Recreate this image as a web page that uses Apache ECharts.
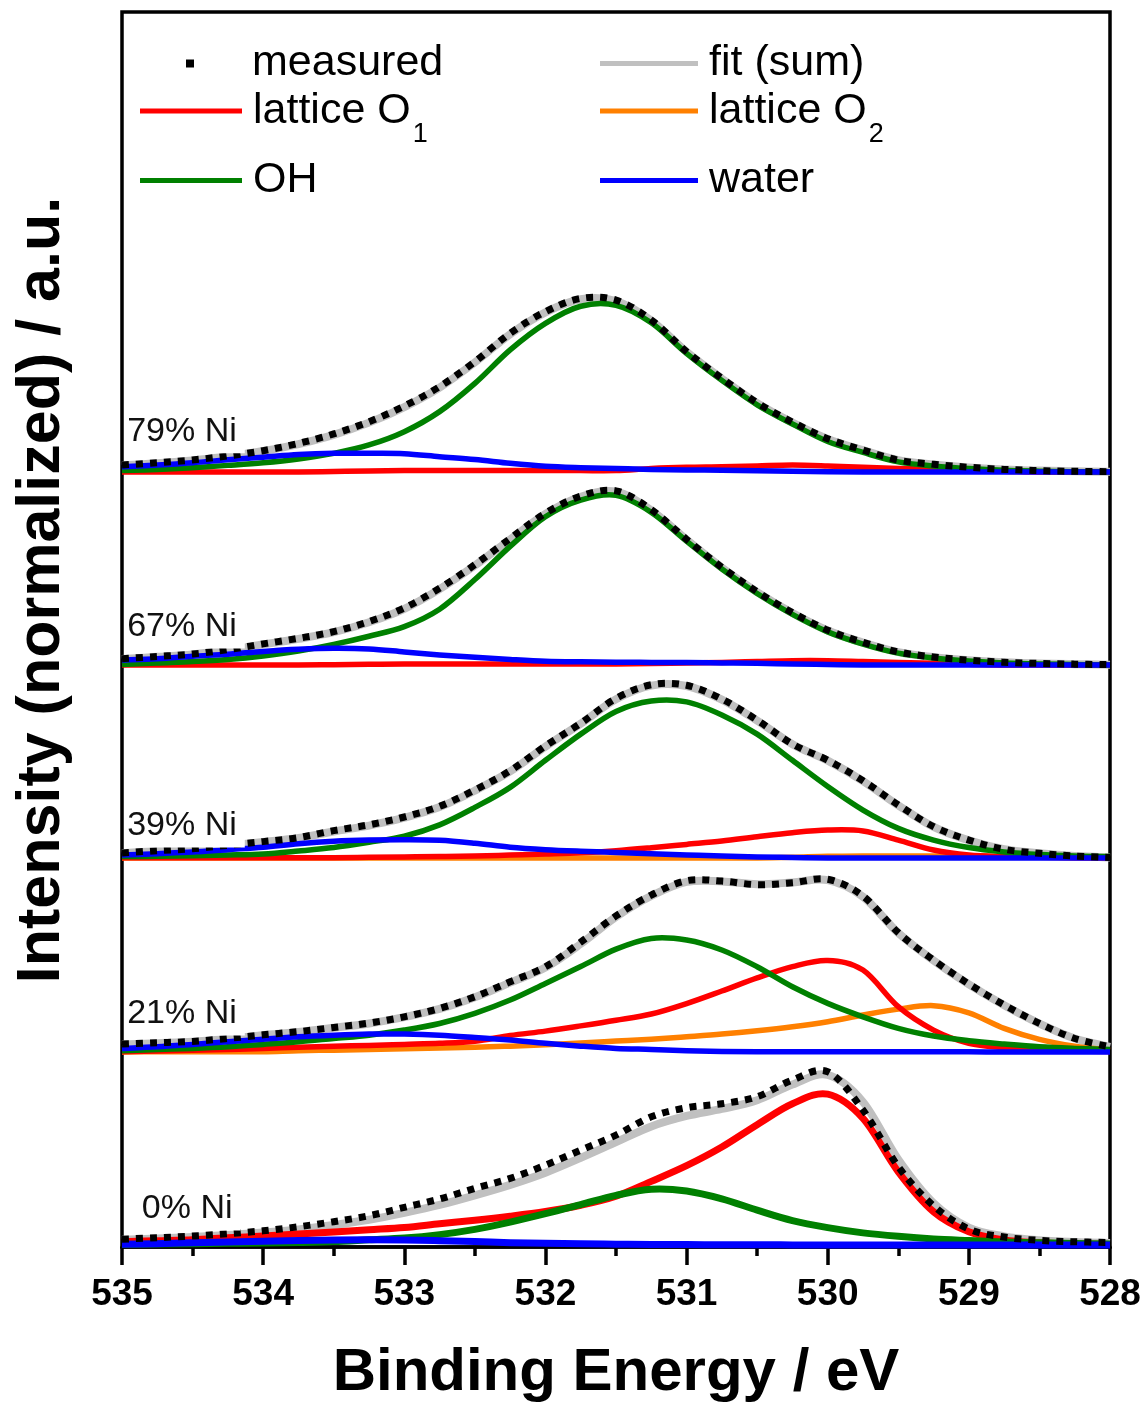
<!DOCTYPE html>
<html>
<head>
<meta charset="utf-8">
<title>O 1s spectra</title>
<script src="https://cdn.jsdelivr.net/npm/echarts@6/dist/echarts.min.js"></script>
<style>
html, body { margin: 0; padding: 0; background: #fff; }
#main { width: 1146px; height: 1409px; }
</style>
</head>
<body>
<div id="main"></div>
<script>
var FONT = '"Liberation Sans", Arial, sans-serif';

// binding energy grid (eV), read every 0.25 eV
var energy = [535, 534.75, 534.5, 534.25, 534, 533.75, 533.5, 533.25, 533, 532.75, 532.5, 532.25, 532, 531.75, 531.5,
              531.25, 531, 530.75, 530.5, 530.25, 530, 529.75, 529.5, 529.25, 529, 528.75, 528.5, 528.25, 528];

var sampleNames = ['0% Ni', '21% Ni', '39% Ni', '67% Ni', '79% Ni'];
var offsets = [0.011, 1.117, 2.229, 3.335, 4.441];     // vertical stacking offset of each spectrum
var labelE = [534.16, 534.13, 534.13, 534.13, 534.13];
var labelY = [0.207, 0.218, 0.184, 0.218, 0.230];

// 0% Ni
var meas0  = [0.034, 0.042, 0.052, 0.065, 0.082, 0.105, 0.134, 0.168, 0.216, 0.264, 0.325, 0.382, 0.458, 0.544, 0.630, 0.735, 0.787, 0.810, 0.850, 0.946, 0.993, 0.774, 0.449, 0.225, 0.092, 0.046, 0.027, 0.019, 0.015];
var fit0   = [0.030, 0.038, 0.047, 0.058, 0.072, 0.090, 0.115, 0.145, 0.185, 0.230, 0.285, 0.345, 0.415, 0.500, 0.590, 0.680, 0.740, 0.780, 0.830, 0.920, 0.975, 0.820, 0.490, 0.240, 0.100, 0.050, 0.028, 0.018, 0.012];
var lat1_0 = [0.019, 0.025, 0.031, 0.042, 0.052, 0.063, 0.075, 0.088, 0.101, 0.122, 0.142, 0.165, 0.192, 0.228, 0.280, 0.365, 0.455, 0.562, 0.690, 0.810, 0.865, 0.726, 0.420, 0.191, 0.076, 0.029, 0.013, 0.006, 0.004];
var oh0    = [0.004, 0.006, 0.008, 0.010, 0.012, 0.015, 0.020, 0.030, 0.040, 0.060, 0.090, 0.132, 0.180, 0.232, 0.285, 0.320, 0.310, 0.265, 0.200, 0.140, 0.100, 0.070, 0.050, 0.035, 0.026, 0.018, 0.013, 0.009, 0.006];
var water0 = [0.005, 0.008, 0.013, 0.018, 0.022, 0.026, 0.029, 0.030, 0.029, 0.025, 0.020, 0.014, 0.010, 0.007, 0.005, 0.003, 0.003, 0.002, 0.002, 0.001, 0, 0, 0, 0, 0, 0, 0, 0, 0];

// 21% Ni
var meas21  = [0.046, 0.053, 0.061, 0.078, 0.099, 0.117, 0.141, 0.166, 0.202, 0.250, 0.317, 0.403, 0.489, 0.630, 0.780, 0.900, 0.982, 0.980, 0.959, 0.970, 0.990, 0.894, 0.684, 0.527, 0.390, 0.270, 0.164, 0.078, 0.030];
var fit21   = [0.044, 0.051, 0.059, 0.076, 0.097, 0.115, 0.139, 0.164, 0.200, 0.247, 0.314, 0.398, 0.484, 0.620, 0.775, 0.895, 0.975, 0.978, 0.962, 0.972, 0.985, 0.890, 0.682, 0.525, 0.388, 0.268, 0.163, 0.078, 0.030];
var lat1_21 = [0.002, 0.006, 0.010, 0.015, 0.020, 0.028, 0.034, 0.038, 0.044, 0.050, 0.062, 0.095, 0.120, 0.150, 0.182, 0.218, 0.278, 0.350, 0.425, 0.490, 0.525, 0.470, 0.260, 0.126, 0.050, 0.025, 0.012, 0.006, 0.003];
var lat2_21 = [0.000, 0.002, 0.002, 0.002, 0.002, 0.008, 0.011, 0.015, 0.019, 0.023, 0.027, 0.034, 0.042, 0.052, 0.063, 0.074, 0.088, 0.103, 0.122, 0.145, 0.174, 0.212, 0.246, 0.266, 0.225, 0.136, 0.073, 0.034, 0.011];
var oh21    = [0.008, 0.015, 0.021, 0.030, 0.044, 0.059, 0.078, 0.097, 0.126, 0.164, 0.222, 0.298, 0.393, 0.490, 0.590, 0.651, 0.642, 0.585, 0.489, 0.374, 0.279, 0.202, 0.136, 0.092, 0.065, 0.046, 0.030, 0.021, 0.015];
var water21 = [0.021, 0.030, 0.044, 0.059, 0.073, 0.088, 0.097, 0.103, 0.103, 0.097, 0.084, 0.069, 0.050, 0.034, 0.021, 0.015, 0.008, 0.004, 0.002, 0.002, 0.002, 0.002, 0.002, 0.002, 0.002, 0, 0, 0, 0];

// 39% Ni
var meas39  = [0.029, 0.042, 0.053, 0.073, 0.094, 0.117, 0.157, 0.190, 0.235, 0.296, 0.390, 0.500, 0.642, 0.772, 0.915, 0.993, 0.990, 0.911, 0.790, 0.653, 0.560, 0.443, 0.304, 0.180, 0.103, 0.050, 0.027, 0.011, 0.003];
var fit39   = [0.028, 0.040, 0.051, 0.071, 0.092, 0.115, 0.152, 0.186, 0.231, 0.292, 0.386, 0.496, 0.638, 0.770, 0.910, 0.988, 0.986, 0.908, 0.788, 0.652, 0.558, 0.441, 0.302, 0.178, 0.101, 0.050, 0.027, 0.011, 0.003];
var lat1_39 = [0.002, 0.002, 0.002, 0.002, 0.002, 0.002, 0.002, 0.004, 0.006, 0.008, 0.011, 0.017, 0.023, 0.030, 0.042, 0.059, 0.078, 0.097, 0.122, 0.145, 0.160, 0.155, 0.103, 0.046, 0.017, 0.008, 0.004, 0.002, 0.002];
var lat2_39 = [0, 0, 0, 0, 0, 0, 0, 0, 0, 0, 0, 0, 0, 0, 0, 0, 0, 0, 0, 0.004, 0.010, 0.012, 0.012, 0.012, 0.011, 0.008, 0.005, 0.003, 0];
var oh39    = [0.008, 0.010, 0.013, 0.017, 0.023, 0.040, 0.060, 0.090, 0.125, 0.190, 0.290, 0.405, 0.560, 0.710, 0.840, 0.900, 0.895, 0.820, 0.710, 0.560, 0.410, 0.275, 0.170, 0.103, 0.060, 0.035, 0.020, 0.012, 0.008];
var water39 = [0.017, 0.025, 0.034, 0.048, 0.062, 0.082, 0.096, 0.103, 0.105, 0.102, 0.085, 0.062, 0.048, 0.039, 0.032, 0.025, 0.018, 0.011, 0.006, 0.003, 0, 0, 0, 0, 0, 0, 0, 0, 0];

// 67% Ni
var meas67  = [0.036, 0.049, 0.063, 0.088, 0.121, 0.153, 0.191, 0.249, 0.327, 0.440, 0.575, 0.725, 0.870, 0.968, 0.998, 0.890, 0.720, 0.560, 0.420, 0.300, 0.200, 0.130, 0.075, 0.046, 0.028, 0.016, 0.009, 0.005, 0.002];
var fit67   = [0.034, 0.047, 0.061, 0.086, 0.118, 0.150, 0.188, 0.245, 0.322, 0.435, 0.570, 0.720, 0.866, 0.964, 0.993, 0.887, 0.718, 0.558, 0.418, 0.298, 0.198, 0.129, 0.074, 0.045, 0.027, 0.016, 0.009, 0.005, 0.002];
var lat1_67 = [0, 0, 0, 0, 0, 0, 0.002, 0.004, 0.006, 0.006, 0.006, 0.006, 0.006, 0.006, 0.006, 0.008, 0.012, 0.015, 0.020, 0.025, 0.025, 0.020, 0.015, 0.010, 0.005, 0, 0, 0, 0];
var oh67    = [0.003, 0.012, 0.020, 0.032, 0.052, 0.080, 0.118, 0.165, 0.220, 0.320, 0.490, 0.680, 0.850, 0.945, 0.972, 0.875, 0.710, 0.550, 0.410, 0.290, 0.190, 0.120, 0.068, 0.040, 0.023, 0.012, 0.006, 0.003, 0];
var water67 = [0.029, 0.036, 0.050, 0.062, 0.078, 0.090, 0.096, 0.092, 0.075, 0.058, 0.044, 0.032, 0.022, 0.018, 0.016, 0.015, 0.014, 0.012, 0.010, 0.006, 0.003, 0, 0, 0, 0, 0, 0, 0, 0];

// 79% Ni
var meas79  = [0.040, 0.053, 0.069, 0.092, 0.122, 0.164, 0.218, 0.288, 0.378, 0.489, 0.632, 0.795, 0.919, 0.995, 0.985, 0.871, 0.690, 0.537, 0.397, 0.286, 0.191, 0.126, 0.068, 0.044, 0.027, 0.015, 0.008, 0.004, 0.002];
var fit79   = [0.038, 0.050, 0.066, 0.090, 0.120, 0.160, 0.213, 0.283, 0.372, 0.484, 0.628, 0.790, 0.915, 0.990, 0.980, 0.868, 0.688, 0.535, 0.395, 0.284, 0.190, 0.125, 0.068, 0.043, 0.026, 0.015, 0.008, 0.004, 0.002];
var lat1_79 = [0, 0, 0, 0, 0, 0, 0.003, 0.006, 0.008, 0.008, 0.008, 0.008, 0.008, 0.008, 0.008, 0.020, 0.027, 0.030, 0.035, 0.040, 0.035, 0.027, 0.020, 0.015, 0.010, 0.005, 0, 0, 0];
var oh79    = [0.008, 0.015, 0.025, 0.038, 0.053, 0.075, 0.107, 0.155, 0.231, 0.346, 0.508, 0.700, 0.852, 0.950, 0.955, 0.855, 0.680, 0.525, 0.385, 0.275, 0.175, 0.112, 0.058, 0.035, 0.020, 0.010, 0.005, 0.002, 0];
var water79 = [0.030, 0.040, 0.053, 0.070, 0.085, 0.100, 0.107, 0.107, 0.105, 0.088, 0.072, 0.050, 0.033, 0.025, 0.020, 0.015, 0.012, 0.010, 0.007, 0.005, 0.002, 0, 0, 0, 0, 0, 0, 0, 0];

var panels = [
  {meas: meas0,  fit: fit0,  lat1: lat1_0,  lat2: null,    oh: oh0,  water: water0,  lw: 7},
  {meas: meas21, fit: fit21, lat1: lat1_21, lat2: lat2_21, oh: oh21, water: water21, lw: 5.5},
  {meas: meas39, fit: fit39, lat1: lat1_39, lat2: lat2_39, oh: oh39, water: water39, lw: 5.5},
  {meas: meas67, fit: fit67, lat1: lat1_67, lat2: null,    oh: oh67, water: water67, lw: 5.5},
  {meas: meas79, fit: fit79, lat1: lat1_79, lat2: null,    oh: oh79, water: water79, lw: 5.5}
];

var COL = {meas: '#000000', fit: '#c0c0c0', lat1: '#ff0000', lat2: '#ff8000', oh: '#008000', water: '#0000ff'};

function pts(vals, off) {
  return energy.map(function (e, i) { return [e, off + vals[i]]; });
}

// Catmull-Rom through the projected points (no clamping at the peaks)
function smoothPath(p) {
  var d = 'M' + p[0][0] + ',' + p[0][1];
  for (var i = 0; i < p.length - 1; i++) {
    var p0 = p[i - 1] || p[i], p1 = p[i], p2 = p[i + 1], p3 = p[i + 2] || p[i + 1];
    var c1x = p1[0] + (p2[0] - p0[0]) / 6, c1y = p1[1] + (p2[1] - p0[1]) / 6;
    var c2x = p2[0] - (p3[0] - p1[0]) / 6, c2y = p2[1] - (p3[1] - p1[1]) / 6;
    d += 'C' + c1x + ',' + c1y + ',' + c2x + ',' + c2y + ',' + p2[0] + ',' + p2[1];
  }
  return d;
}

function curve(name, vals, off, color, width, dash) {
  var data = pts(vals, off);
  return {
    type: 'custom', name: name, coordinateSystem: 'cartesian2d',
    silent: true, animation: false,
    itemStyle: {color: color},
    encode: {x: 0, y: 1},
    data: data,
    renderItem: function (params, api) {
      if (params.dataIndex !== 0) return null;
      var p = data.map(function (d) { return api.coord(d); });
      return {
        type: 'path',
        shape: {pathData: smoothPath(p)},
        style: {stroke: color, fill: 'none', lineWidth: width, lineDash: dash || null, lineCap: 'butt', lineJoin: 'round'}
      };
    }
  };
}

var series = [];
panels.forEach(function (p, k) {
  var off = offsets[k];
  series.push(curve('fit (sum)', p.fit, off, COL.fit, 8));
  if (p.lat2) series.push(curve('lattice O2', p.lat2, off, COL.lat2, p.lw));
  series.push(curve('lattice O1', p.lat1, off, COL.lat1, p.lw));
  series.push(curve('OH', p.oh, off, COL.oh, p.lw));
  series.push(curve('water', p.water, off, COL.water, p.lw));
  series.push(curve('measured', p.meas, off, COL.meas, 7, [7, 7]));
});

function legendFmt(name) {
  if (name === 'measured') return '{m|measured}';
  if (name === 'lattice O1') return '{t|lattice O}{s|1}';
  if (name === 'lattice O2') return '{t|lattice O}{s|2}';
  return '{t|' + name + '}';
}

var rich = {
  m: {fontSize: 43, fontFamily: FONT, color: '#000', lineHeight: 46, padding: [0, 0, 0, 53]},
  t: {fontSize: 43, fontFamily: FONT, color: '#000', lineHeight: 46, padding: [0, 0, 0, 6]},
  s: {fontSize: 27, fontFamily: FONT, color: '#000', lineHeight: 10, verticalAlign: 'top', padding: [33, 0, 0, 2]}
};

function legendAt(name, left, top, w, h) {
  return {
    left: left, top: top, padding: 0, orient: 'horizontal',
    itemWidth: w, itemHeight: h, icon: 'rect', selectedMode: false,
    itemStyle: {borderWidth: 0},
    data: [name], formatter: legendFmt,
    textStyle: {fontSize: 43, fontFamily: FONT, color: '#000', rich: rich}
  };
}

var legends = [
  legendAt('measured', 186, 42, 8, 8),
  legendAt('fit (sum)', 600, 42, 98, 5),
  legendAt('lattice O1', 140, 88, 102, 5),
  legendAt('lattice O2', 600, 88, 98, 5),
  legendAt('OH', 140, 159, 102, 5),
  legendAt('water', 600, 159, 98, 5)
];

var chart = echarts.init(document.getElementById('main'));

var option = {
  backgroundColor: '#fff',
  animation: false,
  legend: legends,
  grid: {
    left: 122, right: 36, top: 12, bottom: 162,
    show: true, borderColor: '#000', borderWidth: 3.5,
    containLabel: false, outerBoundsMode: 'none'
  },
  xAxis: {
    type: 'value', min: 528, max: 535, interval: 1, inverse: true,
    name: 'Binding Energy / eV', nameLocation: 'middle', nameGap: 96,
    nameTextStyle: {fontSize: 60, fontWeight: 'bold', color: '#000', fontFamily: FONT},
    axisLine: {show: true, onZero: false, lineStyle: {color: '#000', width: 3.5}},
    axisTick: {show: true, inside: false, length: 18, lineStyle: {color: '#000', width: 3.5}},
    minorTick: {show: true, splitNumber: 2, length: 9, lineStyle: {color: '#000', width: 3.5}},
    axisLabel: {fontSize: 37, fontWeight: 'bold', color: '#000', margin: 29, fontFamily: FONT},
    splitLine: {show: false}
  },
  yAxis: {type: 'value', min: 0, max: 7.077, show: false, splitLine: {show: false}},
  series: series
};
chart.setOption(option);

// sample labels (white box) and the rotated y title
var gfx = [];
sampleNames.forEach(function (s, k) {
  var pt = chart.convertToPixel({gridIndex: 0}, [labelE[k], offsets[k] + labelY[k]]);
  gfx.push({
    type: 'text', x: pt[0], y: pt[1], z: 100,
    style: {
      text: s, font: '34px ' + FONT, fill: '#111',
      align: 'right', verticalAlign: 'middle',
      backgroundColor: '#fff', padding: [6, 8, 3, 2]
    }
  });
});
gfx.push({
  type: 'text', x: 42, y: 590, rotation: Math.PI / 2, z: 100,
  style: {
    text: 'Intensity (normalized) / a.u.', font: 'bold 61px ' + FONT, fill: '#000',
    align: 'center', verticalAlign: 'middle'
  }
});
chart.setOption({graphic: gfx});
</script>
</body>
</html>
